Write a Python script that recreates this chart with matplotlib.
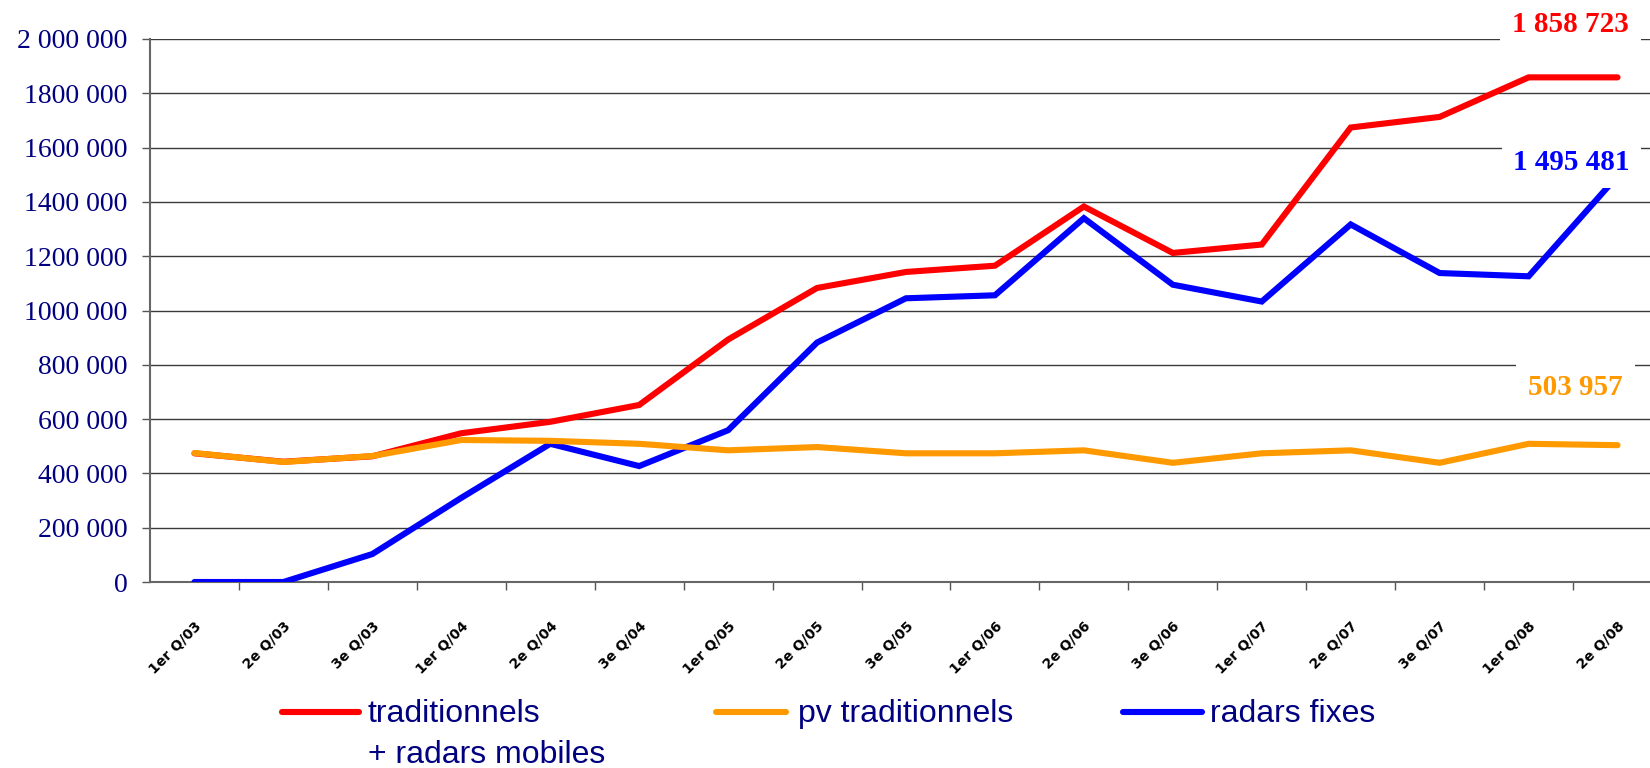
import matplotlib
matplotlib.use("Agg")
import matplotlib.pyplot as plt
from matplotlib.lines import Line2D
from matplotlib.transforms import ScaledTranslation
import numpy as np

periods = ["1er Q/03", "2e Q/03", "3e Q/03",
           "1er Q/04", "2e Q/04", "3e Q/04",
           "1er Q/05", "2e Q/05", "3e Q/05",
           "1er Q/06", "2e Q/06", "3e Q/06",
           "1er Q/07", "2e Q/07", "3e Q/07",
           "1er Q/08", "2e Q/08"]

trad_plus_mobiles = [474000, 443000, 463000, 548000, 590000, 652000, 893000, 1083000,
                     1142000, 1165000, 1383000, 1212000, 1243000, 1674000, 1713000,
                     1858723, 1858723]
pv_trad = [475000, 442000, 464000, 523000, 520000, 509000, 485000, 497000, 474000,
           474000, 485000, 439000, 474000, 485000, 439000, 509000, 503957]
radars_fixes = [0, 0, 103000, 310000, 509000, 427000, 559000, 882000, 1045000, 1056000,
                1340000, 1095000, 1033000, 1317000, 1138000, 1126000, 1495481]

yticks = [0, 200000, 400000, 600000, 800000, 1000000, 1200000, 1400000, 1600000,
          1800000, 2000000]
ytick_labels = ["0", "200 000", "400 000", "600 000", "800 000", "1000 000",
                "1200 000", "1400 000", "1600 000", "1800 000", "2 000 000"]

legend_labels = ["traditionnels", "pv traditionnels", "radars fixes"]
legend_label_extra = "+ radars mobiles"
end_labels = ["1 858 723", "503 957", "1 495 481"]

RED = "#FF0000"
ORANGE = "#FF9900"
BLUE = "#0000FF"
NAVY = "#000080"

W, H = 1650, 768
fig = plt.figure(figsize=(W / 100, H / 100), dpi=100)
left, right, top, bottom = 150, 1662, 39, 582
ax = fig.add_axes([left / W, 1 - bottom / H, (right - left) / W, (bottom - top) / H])

x = np.arange(len(periods))
lw = 4.4
l_red, = ax.plot(x, trad_plus_mobiles, color=RED, lw=lw, solid_capstyle="round",
                 solid_joinstyle="miter", zorder=3)
l_blue, = ax.plot(x, radars_fixes, color=BLUE, lw=lw, solid_capstyle="round",
                  solid_joinstyle="miter", zorder=3)
l_orange, = ax.plot(x, pv_trad, color=ORANGE, lw=lw, solid_capstyle="round",
                    solid_joinstyle="miter", zorder=4)

ax.set_xlim(-0.5, len(periods) - 0.5)
ax.set_ylim(0, 2000000)
ax.set_yticks(yticks)
ax.set_yticklabels(ytick_labels, family="Liberation Serif", fontsize=20, color=NAVY)
ax.yaxis.grid(True, color="#3a3a3a", lw=1.0, zorder=1)
ax.set_axisbelow(True)

ax.set_xticks(x)
ax.set_xticklabels(periods, rotation=45, ha="right", va="top", rotation_mode="anchor",
                   fontsize=10, fontweight="bold", color="black", family="DejaVu Sans")
shift = ScaledTranslation(-14 / 100, 0, fig.dpi_scale_trans)
for lab in ax.get_xticklabels():
    lab.set_transform(lab.get_transform() + shift)
ax.set_xticks(np.arange(len(periods) - 1) + 0.5, minor=True)
ax.tick_params(axis="x", which="major", length=0, pad=27)
ax.tick_params(axis="x", which="minor", length=6, width=1, color="#555555", direction="out")
ax.tick_params(axis="y", length=6, width=1, color="#555555", pad=10)

for s in ["top", "right"]:
    ax.spines[s].set_visible(False)
for s in ["left", "bottom"]:
    ax.spines[s].set_color("#666666")
    ax.spines[s].set_linewidth(1.5)

# end value labels
last = len(periods) - 1
specs = [(trad_plus_mobiles[-1], end_labels[0], RED, (-47, 53)),
         (pv_trad[-1], end_labels[1], ORANGE, (-42, 58)),
         (radars_fixes[-1], end_labels[2], BLUE, (-46, 13))]
for val, txt, col, off in specs:
    ax.annotate(txt, xy=(last, val), xytext=off, textcoords="offset pixels",
                ha="center", va="center", fontsize=21, fontweight="bold",
                family="Liberation Serif", color=col, zorder=6, annotation_clip=False,
                bbox=dict(boxstyle="square,pad=0.4", fc="white", ec="none"))

# legend (manual)
def fx(px):
    return px / W

def fy(py):
    return 1 - py / H

legend_items = [(l_red, 282, 359, 368), (l_orange, 716, 786, 798), (l_blue, 1123, 1202, 1210)]
for (line, x0, x1, xt), lab in zip(legend_items, legend_labels):
    fig.add_artist(Line2D([fx(x0), fx(x1)], [fy(712), fy(712)], color=line.get_color(),
                          lw=lw, solid_capstyle="round", transform=fig.transFigure))
    fig.text(fx(xt), fy(722), lab, fontsize=23, family="Liberation Sans", color=NAVY,
             ha="left", va="baseline")
fig.text(fx(368), fy(763), legend_label_extra, fontsize=23, family="Liberation Sans",
         color=NAVY, ha="left", va="baseline")

fig.savefig("out.png", dpi=100)
